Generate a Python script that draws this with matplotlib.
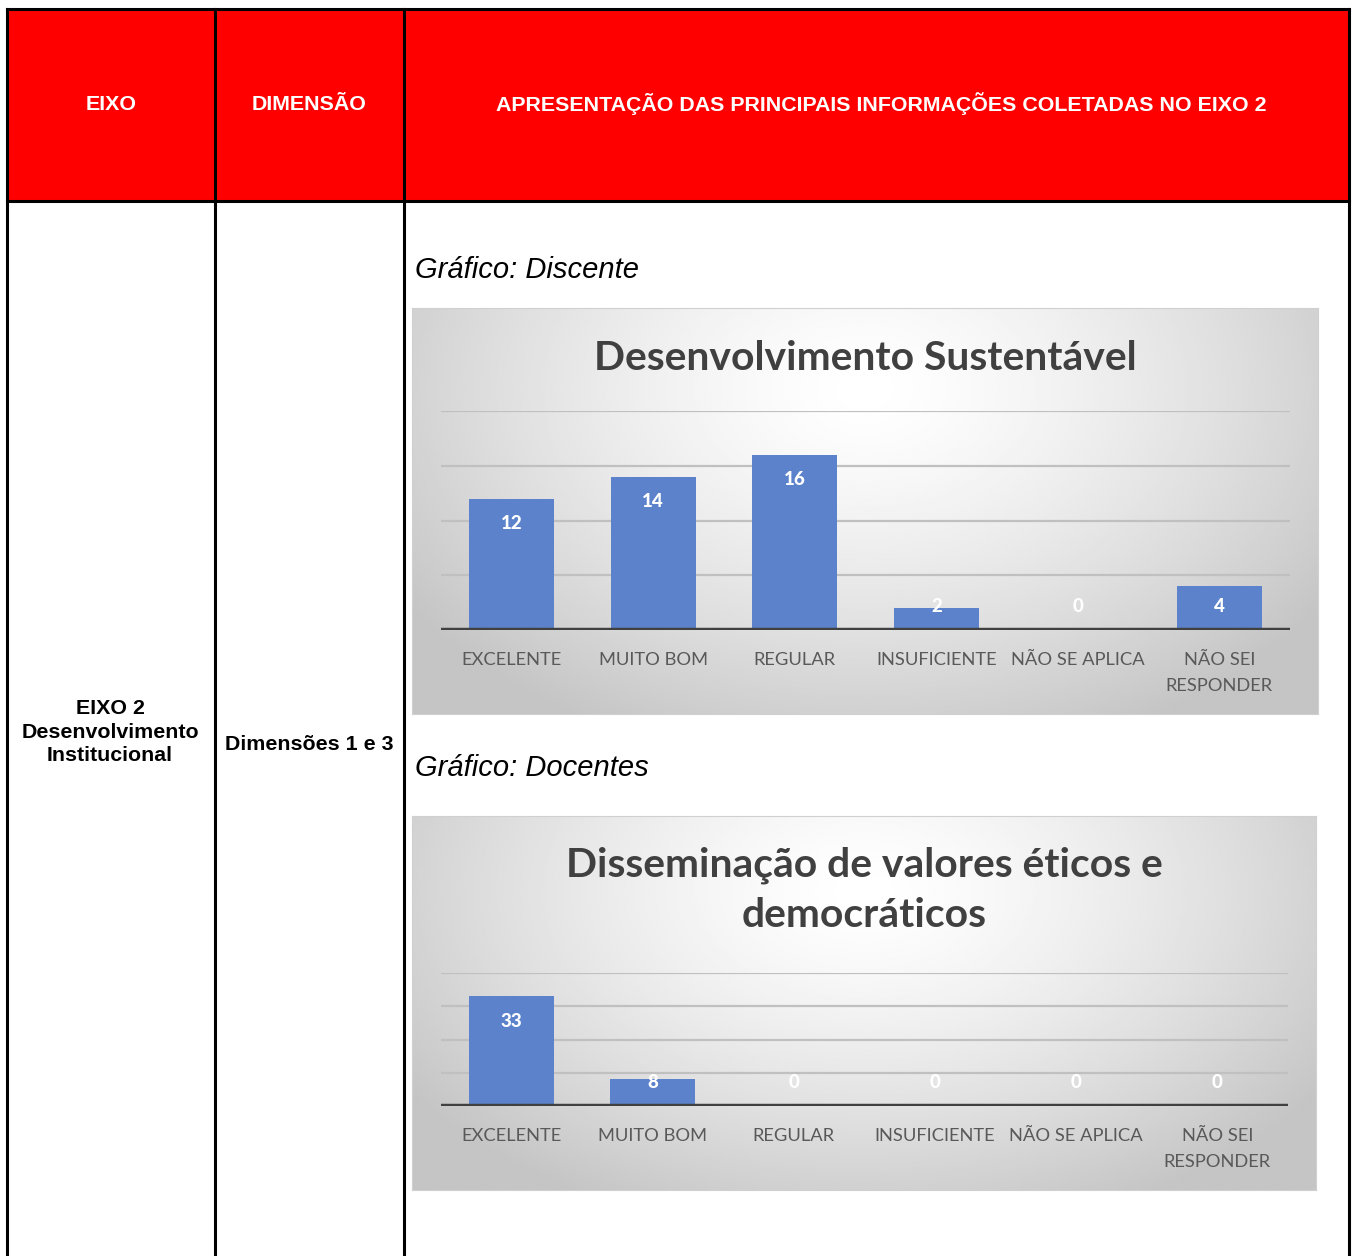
import numpy as np
import matplotlib.pyplot as plt
from matplotlib.patches import Rectangle

""" data """

categorias = ["EXCELENTE", "MUITO BOM", "REGULAR", "INSUFICIENTE",
              "NÃO SE APLICA", "NÃO SEI\nRESPONDER"]
discente = [12, 14, 16, 2, 0, 4]
docentes = [33, 8, 0, 0, 0, 0]

titulo_discente = "Desenvolvimento Sustentável"
titulo_docentes = "Disseminação de valores éticos e\ndemocráticos"

cabecalho = ["EIXO", "DIMENSÃO",
             "APRESENTAÇÃO DAS PRINCIPAIS INFORMAÇÕES COLETADAS NO EIXO 2"]
eixo_txt = "EIXO 2\nDesenvolvimento\nInstitucional"
dimensao_txt = "Dimensões 1 e 3"


""" layout (pixels) """

W, H = 1354, 1256
RED = "#ff0000"
BAR = "#5b82cb"
TXT_CHART = "#595959"
TITLE_CHART = "#404040"


def frac(x0, y0, x1, y1):
    return [x0 / W, 1 - y1 / H, (x1 - x0) / W, (y1 - y0) / H]


fig = plt.figure(figsize=(W / 100, H / 100), dpi=100)
fig.patch.set_facecolor("white")

base = fig.add_axes([0, 0, 1, 1])
base.set_xlim(0, W)
base.set_ylim(H, 0)
base.axis("off")

# header fill
base.add_patch(Rectangle((7, 9), 1349 - 7, 201 - 9, facecolor=RED,
                         edgecolor="none", zorder=1))

# table lines
lw = 2.2
base.plot([7, 1349], [9, 9], color="black", lw=lw, zorder=2)
base.plot([7, 1349], [201, 201], color="black", lw=lw, zorder=2)
for xv in [7, 215, 404, 1349]:
    base.plot([xv, xv], [9, H], color="black", lw=lw, zorder=2)

hfont = dict(family="Liberation Sans", weight="bold", fontsize=15.4)
base.text(111, 104, cabecalho[0], color="white", ha="center", va="center", **hfont)
base.text(309, 104, cabecalho[1], color="white", ha="center", va="center", **hfont)
base.text(881, 104, cabecalho[2], color="white", ha="center", va="center", **hfont)

base.text(110, 732, eixo_txt, color="black", ha="center", va="center",
          linespacing=1.32, **hfont)
base.text(309, 745, dimensao_txt, color="black", ha="center", va="center", **hfont)

gfont = dict(family="Liberation Sans", style="italic", fontsize=21)
base.text(415, 270, "Gráfico: Discente", ha="left", va="center", **gfont)
base.text(415, 768, "Gráfico: Docentes", ha="left", va="center", **gfont)


def gradient():
    ny, nx = 200, 300
    yy, xx = np.mgrid[0:1:ny * 1j, 0:1:nx * 1j]
    d = np.sqrt(((xx - 0.5) / 0.62) ** 2 + ((yy - 0.2) / 0.95) ** 2)
    return 1 - 0.23 * np.clip(d, 0, 1) ** 1.4


def chart(panel, plot, valores, ymax, step, titulo, title_y):
    x0, y0, x1, y1 = panel
    pax = fig.add_axes(frac(x0, y0, x1, y1))
    pax.imshow(gradient(), cmap="gray", vmin=0, vmax=1, aspect="auto",
               extent=[0, 1, 0, 1], origin="upper", interpolation="bilinear")
    pax.set_xlim(0, 1)
    pax.set_ylim(0, 1)
    for s in pax.spines.values():
        s.set_color("#d0d0d0")
    pax.set_xticks([])
    pax.set_yticks([])

    fig.text((x0 + x1) / 2 / W, 1 - title_y / H, titulo, ha="center", va="center",
             family="Lato", weight="bold", fontsize=29.4, color=TITLE_CHART,
             linespacing=1.44)

    ax = fig.add_axes(frac(*plot))
    ax.patch.set_alpha(0)
    xs = np.arange(len(categorias))
    ax.bar(xs, valores, width=0.6, color=BAR, edgecolor="none", zorder=3)
    ax.set_xlim(-0.5, len(categorias) - 0.5)
    ax.set_ylim(0, ymax)
    for g in np.arange(step, ymax + 0.01, step):
        ax.axhline(g, color="#c0c0c0", lw=1.6, zorder=1)
    ax.axhline(0, color="#404040", lw=3.2, zorder=4)
    for s in ax.spines.values():
        s.set_visible(False)
    ax.set_yticks([])
    ax.set_xticks(xs, categorias)
    ax.tick_params(axis="x", length=0, pad=16)
    for t in ax.get_xticklabels():
        t.set_family("Lato")
        t.set_fontsize(13.2)
        t.set_color(TXT_CHART)
        t.set_linespacing(1.76)

    # labels inside end, kept above the baseline for short bars
    h_px = plot[3] - plot[1]
    off = 25 * ymax / h_px
    for xi, v in zip(xs, valores):
        ax.text(xi, max(v - off, off * 0.93), str(v), ha="center", va="center",
                color="white", family="Lato", weight="black", fontsize=13.5, zorder=5)


chart((412, 308, 1318, 714), (441, 411, 1290, 630), discente, 20, 5,
      titulo_discente, 359)
chart((412, 816, 1316, 1190), (441, 973, 1288, 1106), docentes, 40, 10,
      titulo_docentes, 890)

fig.savefig("out.png", dpi=100)
